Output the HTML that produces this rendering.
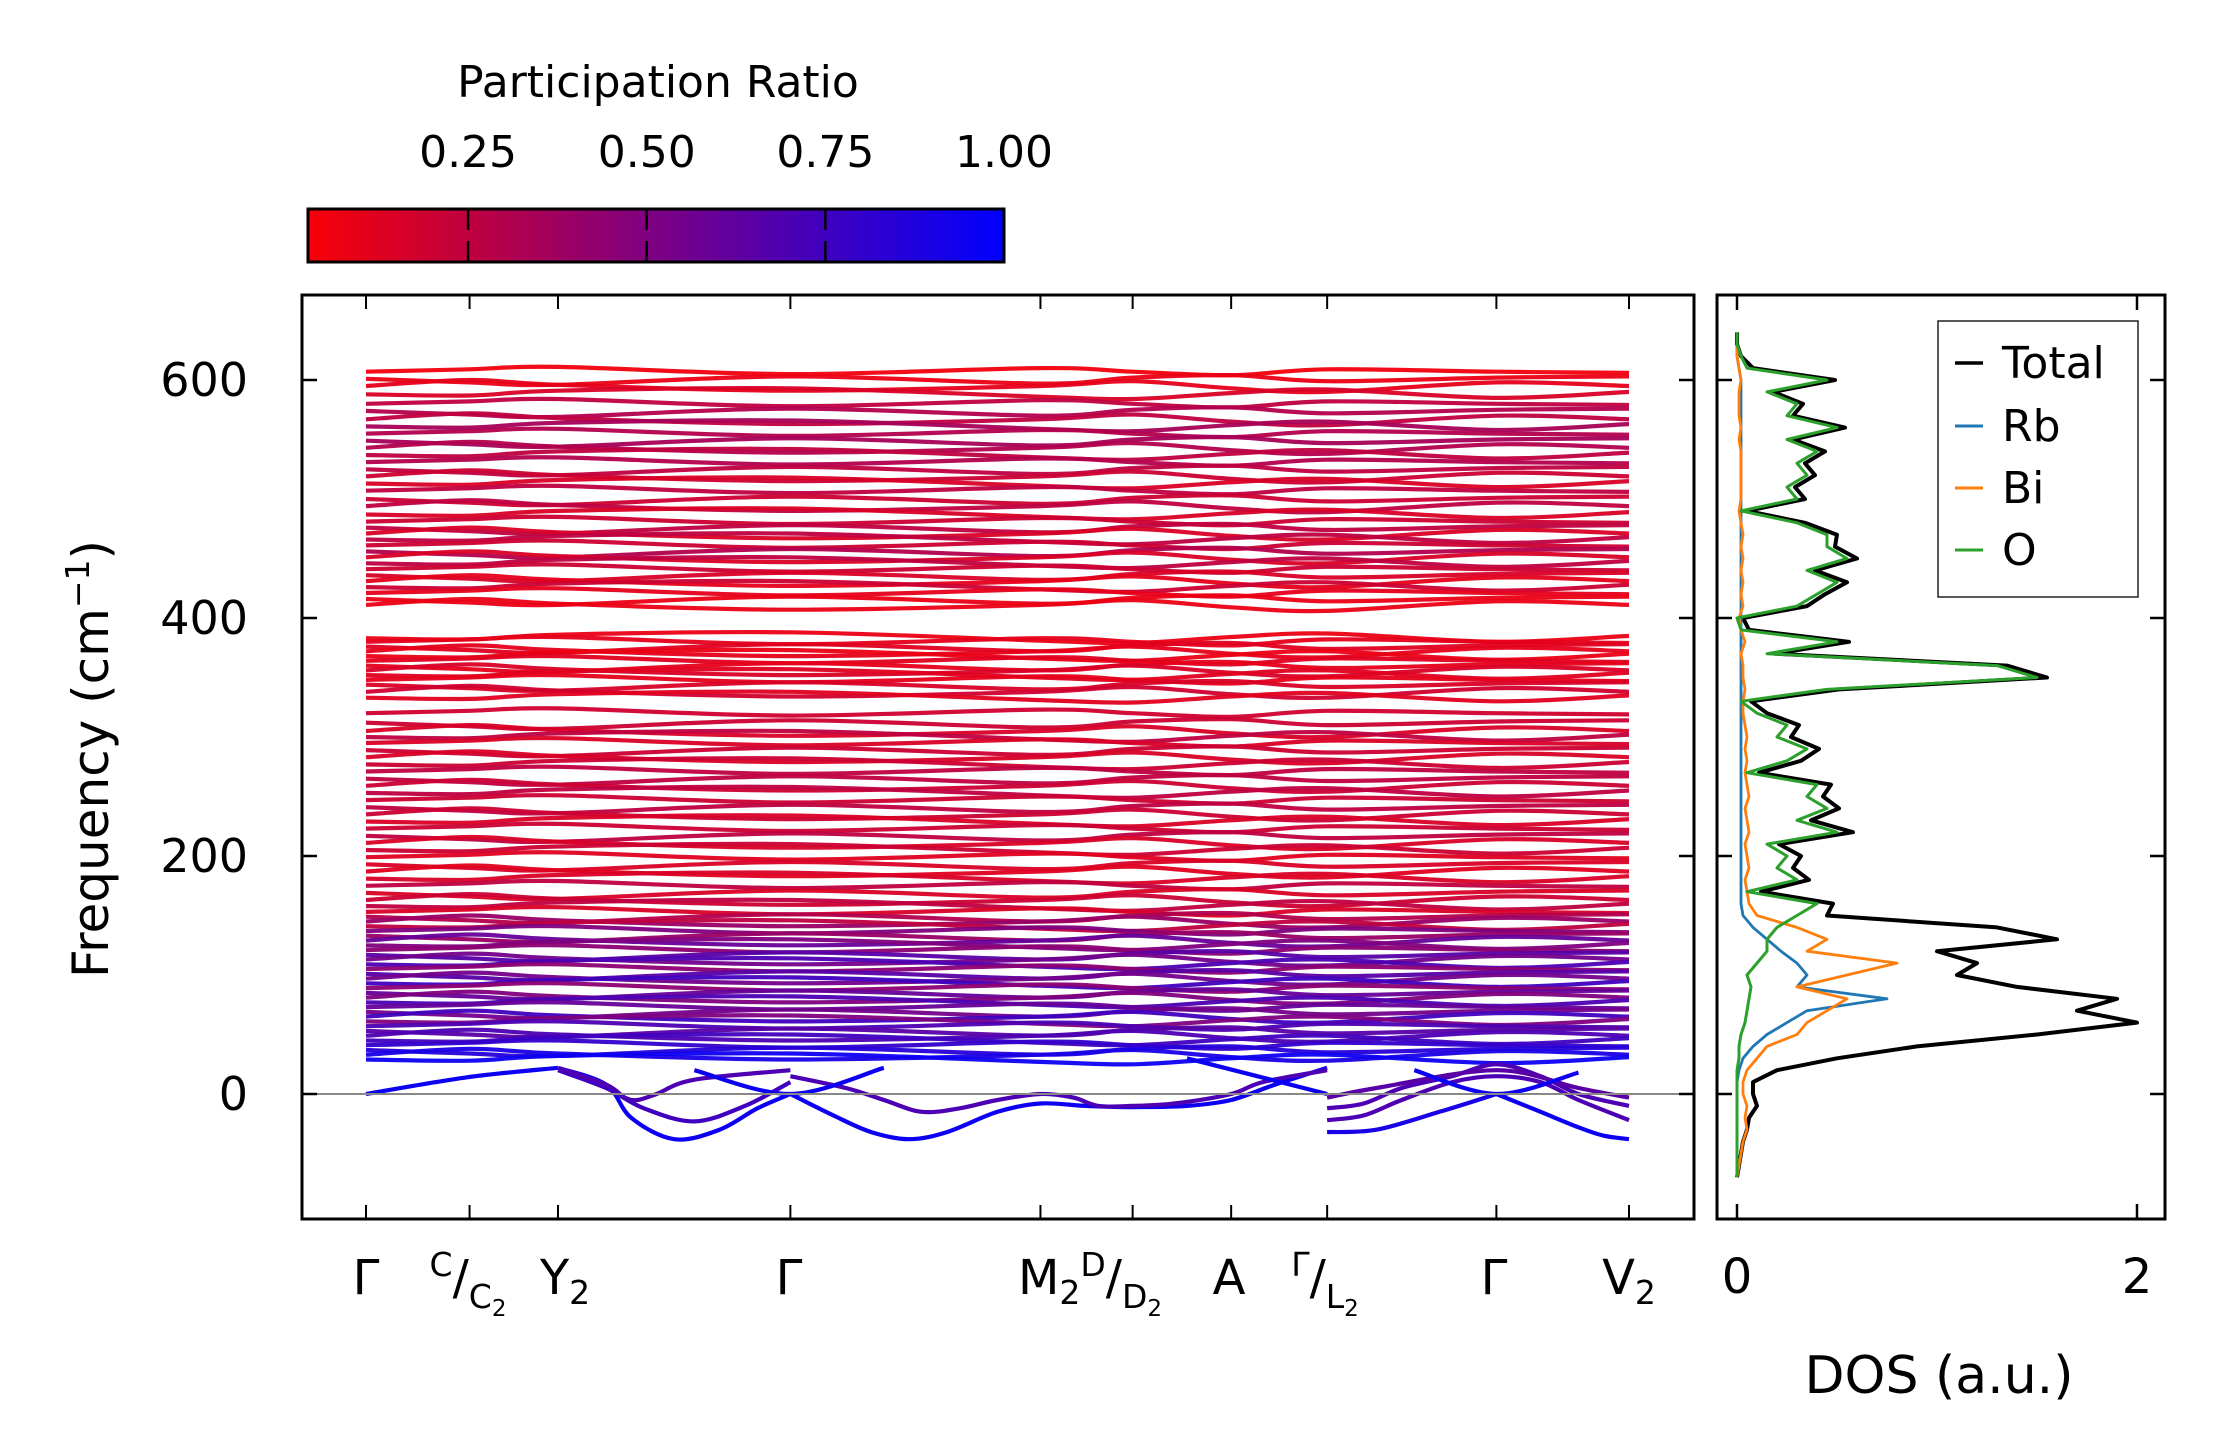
<!DOCTYPE html>
<html><head><meta charset="utf-8"><style>
html,body{margin:0;padding:0;background:#fff;}
svg{display:block;font-family:"DejaVu Sans","Liberation Sans",sans-serif;}
</style></head><body>
<svg id="fig" width="2222" height="1455" viewBox="0 0 2222 1455" xmlns="http://www.w3.org/2000/svg">
<defs>
<linearGradient id="cbgrad" x1="0" x2="1" y1="0" y2="0">
<stop offset="0" stop-color="rgb(248,0,7)"/><stop offset="1" stop-color="rgb(0,0,255)"/>
</linearGradient>
<clipPath id="mainclip"><rect x="302" y="295" width="1392" height="924"/></clipPath>
<clipPath id="dosclip"><rect x="1717" y="295" width="448" height="924"/></clipPath>
</defs>
<g id="colorbar">
<text x="658" y="97" font-size="44" text-anchor="middle">Participation Ratio</text>
<rect x="308" y="209" width="696" height="53" fill="url(#cbgrad)" stroke="#000" stroke-width="3"/>
<g id="cbticks"></g>
</g>
<g id="bands" clip-path="url(#mainclip)"></g>
<g id="mainaxes"></g>
<g id="dos" clip-path="url(#dosclip)"></g>
<g id="dosaxes"></g>
<text transform="translate(108,759) rotate(-90)" font-size="50" text-anchor="middle">Frequency (cm<tspan baseline-shift="super" font-size="33">−1</tspan>)</text>
<text x="1939" y="1393" font-size="52" text-anchor="middle">DOS (a.u.)</text>
<g>
<rect x="1938" y="321" width="200" height="276" fill="#fff" stroke="#222" stroke-width="1.5"/>
<line x1="1955" y1="363" x2="1983" y2="363" stroke="#000" stroke-width="3.5"/><text x="2002" y="378" font-size="44">Total</text>
<line x1="1955" y1="426" x2="1983" y2="426" stroke="#1f77b4" stroke-width="3"/><text x="2002" y="441" font-size="44">Rb</text>
<line x1="1955" y1="488" x2="1983" y2="488" stroke="#ff7f0e" stroke-width="3"/><text x="2002" y="503" font-size="44">Bi</text>
<line x1="1955" y1="550" x2="1983" y2="550" stroke="#2ca02c" stroke-width="3"/><text x="2002" y="565" font-size="44">O</text>
</g>
</svg>
<script>
// ---- data ----
const kTicks = [0, 0.82, 1.52, 3.36, 5.34, 6.07, 6.85, 7.61, 8.95, 10];
const yTicks = [0, 200, 400, 600];
const cbTicks = [0.25, 0.5, 0.75, 1.0];
const cbTickLabels = ["0.25", "0.50", "0.75", "1.00"];
const bandBase = [607,601,595,588,580,574,567,561,555,549,543,537,531,525,519,513,507,500,494,487,481,476,471,466,461,456,451,446,441,436,431,426,421,416,411,
 383,380,376,372,368,364,360,356,352,348,344,338,
 333,320,312,305,300,295,289,283,277,271,265,259,253,247,241,235,229,223,217,211,205,199,193,187,181,175,169,163,158,153,
 149,145,141,137,133,129,125,121,117,113,109,105,101,97,93,89,85,81,77,73,69,65,61,57,53,49,45,41,37,33,29];
const bandPR = [0.05,0.08,0.1,0.15,0.25,0.3,0.25,0.35,0.3,0.35,0.3,0.25,0.3,0.25,0.2,0.15,0.25,0.2,0.25,0.15,0.2,0.25,0.15,0.25,0.2,0.3,0.15,0.25,0.2,0.15,0.1,0.2,0.1,0.08,0.08,
 0.08,0.1,0.12,0.1,0.08,0.12,0.1,0.15,0.12,0.1,0.15,0.18,
 0.12,0.18,0.2,0.15,0.25,0.15,0.2,0.15,0.2,0.25,0.25,0.2,0.25,0.2,0.25,0.2,0.15,0.2,0.25,0.15,0.2,0.12,0.15,0.12,0.15,0.25,0.15,0.2,0.25,0.15,
 0.3,0.4,0.25,0.5,0.4,0.6,0.5,0.45,0.65,0.55,0.7,0.45,0.65,0.55,0.75,0.45,0.6,0.5,0.7,0.6,0.55,0.75,0.5,0.7,0.65,0.7,0.75,0.8,0.85,0.9,0.95];
const wigglePatterns = [
 [0,2,4,-2,3,0,-3,2,0,-1],
 [0,-3,-5,2,-4,1,3,-2,1,2],
 [0,5,1,-4,0,4,-2,-5,3,0],
 [0,-1,3,5,-2,-4,1,4,-3,2]];
const softK = [
 [0,0.8,1.52],
 [1.52,1.9,2.1,2.44,2.8,3.1,3.36],
 [3.36,3.7,4.0,4.3,4.6,5.0,5.34,5.7,6.07,6.5,6.85,7.2,7.61],
 [1.52,1.9,2.2,2.6,3.0,3.36],
 [1.52,1.9,2.05,2.15,2.3,2.6,3.36],
 [3.36,3.8,4.1,4.4,4.7,5.0,5.34,5.6,5.8,6.07,6.4,6.85,7.1,7.61],
 [2.6,3.36,4.1],
 [6.5,7.61],
 [7.61,8.0,8.5,8.95],
 [8.95,9.3,9.6,9.8,10],
 [7.61,7.9,8.2,8.6,8.95,9.3,9.6,10],
 [7.61,7.9,8.2,8.6,8.95,9.3,9.6,10],
 [7.61,8.0,8.95,9.6,10],
 [8.3,8.95,9.6]];
const softF = [
 [0,14,22],
 [22,8,-20,-38,-30,-12,0],
 [0,-18,-32,-38,-32,-15,-8,-10,-11,-10,-5,8,22],
 [20,5,-12,-23,-10,10],
 [22,8,-3,-5,0,12,20],
 [15,5,-5,-15,-12,-5,0,-3,-10,-10,-8,0,10,20],
 [20,0,22],
 [30,0],
 [-32,-30,-15,0],
 [0,-15,-28,-35,-38],
 [-22,-18,-5,10,15,10,-5,-22],
 [-12,-8,5,15,25,15,0,-10],
 [-3,5,20,5,-3],
 [20,0,18]];
const softPR = [0.95,0.95,0.95,0.75,0.7,0.7,0.95,0.95,0.9,0.95,0.7,0.7,0.65,0.95];

const dosFreq = [-70,-60,-50,-40,-30,-20,-10,0,10,20,30,40,50,60,70,80,90,100,110,120,130,140,150,160,170,180,190,200,210,220,230,240,250,260,270,280,290,300,310,320,330,340,350,360,370,380,390,400,410,420,430,440,450,460,470,480,490,500,510,520,530,540,550,560,570,580,590,600,610,620,630,640];
const dosO = [0,0,0,0,0,0,0,0,0,0,0.01,0.01,0.02,0.04,0.05,0.06,0.07,0.05,0.1,0.15,0.15,0.2,0.3,0.4,0.05,0.3,0.2,0.25,0.15,0.5,0.3,0.45,0.35,0.4,0.05,0.25,0.35,0.2,0.25,0.1,0.02,0.45,1.5,1.3,0.15,0.5,0.02,0.0,0.3,0.4,0.5,0.35,0.55,0.45,0.45,0.3,0.02,0.3,0.25,0.35,0.3,0.4,0.25,0.5,0.25,0.3,0.15,0.45,0.05,0.02,0,0];
const dosBi = [0,0.01,0.02,0.03,0.05,0.04,0.05,0.03,0.03,0.05,0.1,0.15,0.3,0.35,0.45,0.55,0.3,0.55,0.8,0.35,0.45,0.3,0.1,0.06,0.05,0.04,0.06,0.05,0.04,0.06,0.05,0.04,0.06,0.05,0.04,0.05,0.04,0.05,0.04,0.03,0.03,0.04,0.03,0.03,0.02,0.04,0.02,0.01,0.03,0.02,0.03,0.02,0.03,0.02,0.03,0.02,0.01,0.02,0.02,0.02,0.02,0.02,0.01,0.02,0.01,0.01,0.01,0.02,0.01,0,0,0];
const dosRb = [0,0,0,0,0,0,0,0,0,0.01,0.03,0.08,0.15,0.25,0.35,0.75,0.3,0.35,0.3,0.22,0.15,0.08,0.03,0.02,0.02,0.02,0.02,0.02,0.02,0.02,0.02,0.02,0.02,0.02,0.02,0.02,0.02,0.02,0.02,0.02,0.02,0.02,0.02,0.02,0.02,0.02,0.02,0.02,0.02,0.02,0.02,0.02,0.02,0.02,0.02,0.02,0.02,0.02,0.02,0.02,0.02,0.02,0.02,0.02,0.02,0.02,0.02,0.02,0.01,0,0,0];
const dosTotal = [0,0.01,0.02,0.03,0.05,0.06,0.1,0.08,0.08,0.2,0.5,0.9,1.5,2.0,1.7,1.9,1.4,1.1,1.2,1.0,1.6,1.3,0.45,0.48,0.12,0.36,0.28,0.32,0.21,0.58,0.37,0.51,0.43,0.47,0.11,0.32,0.41,0.27,0.31,0.15,0.07,0.51,1.55,1.35,0.19,0.56,0.06,0.03,0.35,0.44,0.55,0.39,0.6,0.49,0.5,0.34,0.05,0.34,0.29,0.39,0.34,0.44,0.28,0.54,0.28,0.33,0.18,0.49,0.08,0.02,0,0];

// ---- scales ----
const X0 = 366, X1 = 1629;
function xk(k){ return X0 + k/10*(X1-X0); }
function yf(f){ return 1094 - f*1.19; }
function xd(v){ return 1737 + v*200; }
function prColor(p){
  const r = Math.round(255*(1-p)), b = Math.round(255*p);
  return `rgb(${r},0,${b})`;
}
const NS = "http://www.w3.org/2000/svg";
function mk(tag, attrs, parent){
  const e = document.createElementNS(NS, tag);
  for (const a in attrs) e.setAttribute(a, attrs[a]);
  parent.appendChild(e); return e;
}
function smoothPath(pts){
  if (pts.length < 3) return "M" + pts.map(p=>p[0].toFixed(1)+","+p[1].toFixed(1)).join(" L");
  let d = "M" + pts[0][0].toFixed(1) + "," + pts[0][1].toFixed(1);
  for (let i=0;i<pts.length-1;i++){
    const p0 = pts[Math.max(0,i-1)], p1 = pts[i], p2 = pts[i+1], p3 = pts[Math.min(pts.length-1,i+2)];
    const c1x = p1[0]+(p2[0]-p0[0])/6, c1y = p1[1]+(p2[1]-p0[1])/6;
    const c2x = p2[0]-(p3[0]-p1[0])/6, c2y = p2[1]-(p3[1]-p1[1])/6;
    d += ` C${c1x.toFixed(1)},${c1y.toFixed(1)} ${c2x.toFixed(1)},${c2y.toFixed(1)} ${p2[0].toFixed(1)},${p2[1].toFixed(1)}`;
  }
  return d;
}

// ---- colorbar ticks ----
const cbG = document.getElementById("cbticks");
function xcb(v){ return 308 + (v - 0.026)/(1.0-0.026)*696; }
cbTicks.forEach((t,i)=>{
  const x = xcb(t);
  if (i < cbTicks.length-1){
    const l1 = mk("line",{x1:x,y1:209,x2:x,y2:230,stroke:"#000","stroke-width":2.5},cbG);
    
    
    const l2 = mk("line",{x1:x,y1:241,x2:x,y2:262,stroke:"#000","stroke-width":2.5},cbG);
    
    
  }
  const tx = mk("text",{x:x,y:167,"font-size":44,"text-anchor":"middle"},cbG);
  tx.textContent = cbTickLabels[i];
  
  
});

// ---- bands ----
const bG = document.getElementById("bands");
bandBase.forEach((f,i)=>{
  const pat = wigglePatterns[i%4];
  const pts = kTicks.map((k,j)=>[xk(k), yf(f + pat[j])]);
  const p = mk("path",{d:smoothPath(pts),fill:"none",stroke:prColor(bandPR[i]),"stroke-width":4.2,"stroke-opacity":0.95},bG);
  
  
});
softK.forEach((ks,i)=>{
  const pts = ks.map((k,j)=>[xk(k), yf(softF[i][j])]);
  const p = mk("path",{d:smoothPath(pts),fill:"none",stroke:prColor(softPR[i]),"stroke-width":4.2},bG);
  
  
});
const zl = mk("line",{x1:302,y1:yf(0),x2:1694,y2:yf(0),stroke:"#888","stroke-width":2},bG);



// ---- main axes ----
const mA = document.getElementById("mainaxes");
mk("rect",{x:302,y:295,width:1392,height:924,fill:"none",stroke:"#000","stroke-width":3},mA);
kTicks.forEach(k=>{
  const x = xk(k);
  const t1 = mk("line",{x1:x,y1:1219,x2:x,y2:1205,stroke:"#000","stroke-width":2},mA);
  
  
  const t2 = mk("line",{x1:x,y1:295,x2:x,y2:309,stroke:"#000","stroke-width":2},mA);
  
  
});
yTicks.forEach(f=>{
  const y = yf(f);
  const t1 = mk("line",{x1:302,y1:y,x2:317,y2:y,stroke:"#000","stroke-width":2.5},mA);
  
  
  const t2 = mk("line",{x1:1694,y1:y,x2:1679,y2:y,stroke:"#000","stroke-width":2.5},mA);
  
  
  const tx = mk("text",{x:248,y:y+16,"font-size":46,"text-anchor":"end"},mA);
  tx.textContent = f;
  
  
});
const kLabelHTML = [
 'Γ',
 '<tspan font-size="33" dy="-18">C</tspan><tspan dy="18">/</tspan><tspan font-size="33" dy="14">C</tspan><tspan font-size="23" dy="8">2</tspan>',
 'Y<tspan font-size="33" dy="10">2</tspan>',
 'Γ',
 'M<tspan font-size="33" dy="10">2</tspan><tspan font-size="33" dy="-28">D</tspan><tspan dy="18">/</tspan><tspan font-size="33" dy="14">D</tspan><tspan font-size="23" dy="8">2</tspan>',
 '',
 'A',
 '<tspan font-size="33" dy="-18">Γ</tspan><tspan dy="18">/</tspan><tspan font-size="33" dy="14">L</tspan><tspan font-size="23" dy="8">2</tspan>',
 'Γ',
 'V<tspan font-size="33" dy="10">2</tspan>'];
const kLabelX = [366, 468, 565, 789, 1090, 1141, 1229, 1325, 1494, 1629];
kLabelHTML.forEach((h,i)=>{
  if (!h) return;
  const tx = mk("text",{x:kLabelX[i],y:1294,"font-size":48,"text-anchor":"middle"},mA);
  tx.innerHTML = h;
  
  
});

// ---- DOS ----
const dG = document.getElementById("dos");
function dosPath(vals){
  return "M" + vals.map((v,i)=>xd(v).toFixed(1)+","+yf(dosFreq[i]).toFixed(1)).join(" L");
}
[[dosTotal,"#000",4,"dos-total"],[dosRb,"#1f77b4",2.8,"dos-rb"],[dosBi,"#ff7f0e",2.8,"dos-bi"],[dosO,"#2ca02c",3,"dos-o"]].forEach(s=>{
  const p = mk("path",{d:dosPath(s[0]),fill:"none",stroke:s[1],"stroke-width":s[2],"stroke-linejoin":"round"},dG);
  
  
});
const dA = document.getElementById("dosaxes");
mk("rect",{x:1717,y:295,width:448,height:924,fill:"none",stroke:"#000","stroke-width":3},dA);
yTicks.forEach(f=>{
  const y = yf(f);
  const t1 = mk("line",{x1:1717,y1:y,x2:1732,y2:y,stroke:"#000","stroke-width":2.5},dA);
  
  
  const t2 = mk("line",{x1:2165,y1:y,x2:2150,y2:y,stroke:"#000","stroke-width":2.5},dA);
  
  
});
[0,2].forEach(v=>{
  const x = xd(v);
  const t1 = mk("line",{x1:x,y1:1219,x2:x,y2:1204,stroke:"#000","stroke-width":2.5},dA);
  
  
  const t2 = mk("line",{x1:x,y1:295,x2:x,y2:310,stroke:"#000","stroke-width":2.5},dA);
  
  
  const tx = mk("text",{x:x,y:1293,"font-size":48,"text-anchor":"middle"},dA);
  tx.textContent = v;
  
  
});
</script>
</body></html>
